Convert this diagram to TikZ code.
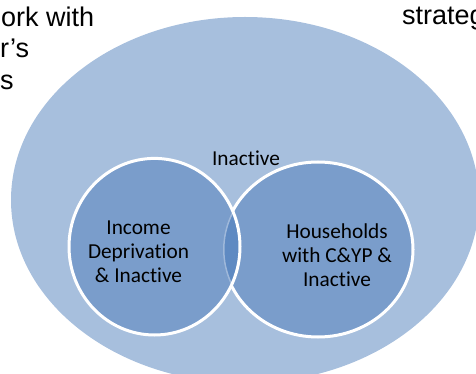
\documentclass[tikz,border=0pt]{standalone}
\usepackage{fontspec}
\newfontfamily\carlito[Ligatures=NoCommon]{Carlito}
\newfontfamily\arialfont{Liberation Sans}
\definecolor{outerblue}{HTML}{A7BFDD}
\definecolor{circblue}{HTML}{7A9DCB}
\definecolor{lensblue}{HTML}{5F8AC2}
\tikzset{
  bodytext/.style={font=\arialfont\fontsize{27}{31}\selectfont, inner sep=0pt, anchor=base west},
  vtext/.style={font=\carlito\fontsize{21.3}{24}\selectfont, inner sep=0pt, align=center, text=black},
  ring/.style={draw=white, line width=3pt}
}
\begin{document}
\begin{tikzpicture}[x=1pt,y=-1pt]
\useasboundingbox (0,0) rectangle (476,374);
\clip (0,0) rectangle (476,374);
% outer ellipse
\fill[outerblue] (245,200) ellipse [x radius=234, y radius=183];
% circle centres
\coordinate (rc) at (318,249.5);
\coordinate (lc) at (154.5,246.7);
% right circle
\fill[circblue] (rc) ellipse [x radius=95, y radius=87.5];
\draw[ring] (rc) ellipse [x radius=95, y radius=87.5];
% left circle
\fill[circblue] (lc) ellipse [x radius=85.5, y radius=88.3];
\begin{scope}
  \clip (rc) ellipse [x radius=95, y radius=87.5];
  \fill[lensblue] (lc) ellipse [x radius=85.5, y radius=88.3];
  \clip (lc) ellipse [x radius=85.5, y radius=88.3];
  \draw[draw=white, draw opacity=0.4, line width=3pt] (rc) ellipse [x radius=95, y radius=87.5];
\end{scope}
\draw[ring] (lc) ellipse [x radius=85.5, y radius=88.3];
% labels
\node[vtext, anchor=base] (inact) at (246,165) {Inactive};
\node[vtext, anchor=base] (ltext) at (138.5,282.7) {Income\\Deprivation\\\& Inactive};
\node[vtext, anchor=base] (rtext) at (337,286.7) {Households\\with C\&YP \&\\Inactive};
% surrounding body text fragments
\node[bodytext] (t1) at (1,27) {ork with};
\node[bodytext] (t2) at (0,58) {r’s};
\node[bodytext] (t3) at (0,90) {s};
\node[bodytext] (t4) at (402,25) {strateg};
\end{tikzpicture}
\end{document}
